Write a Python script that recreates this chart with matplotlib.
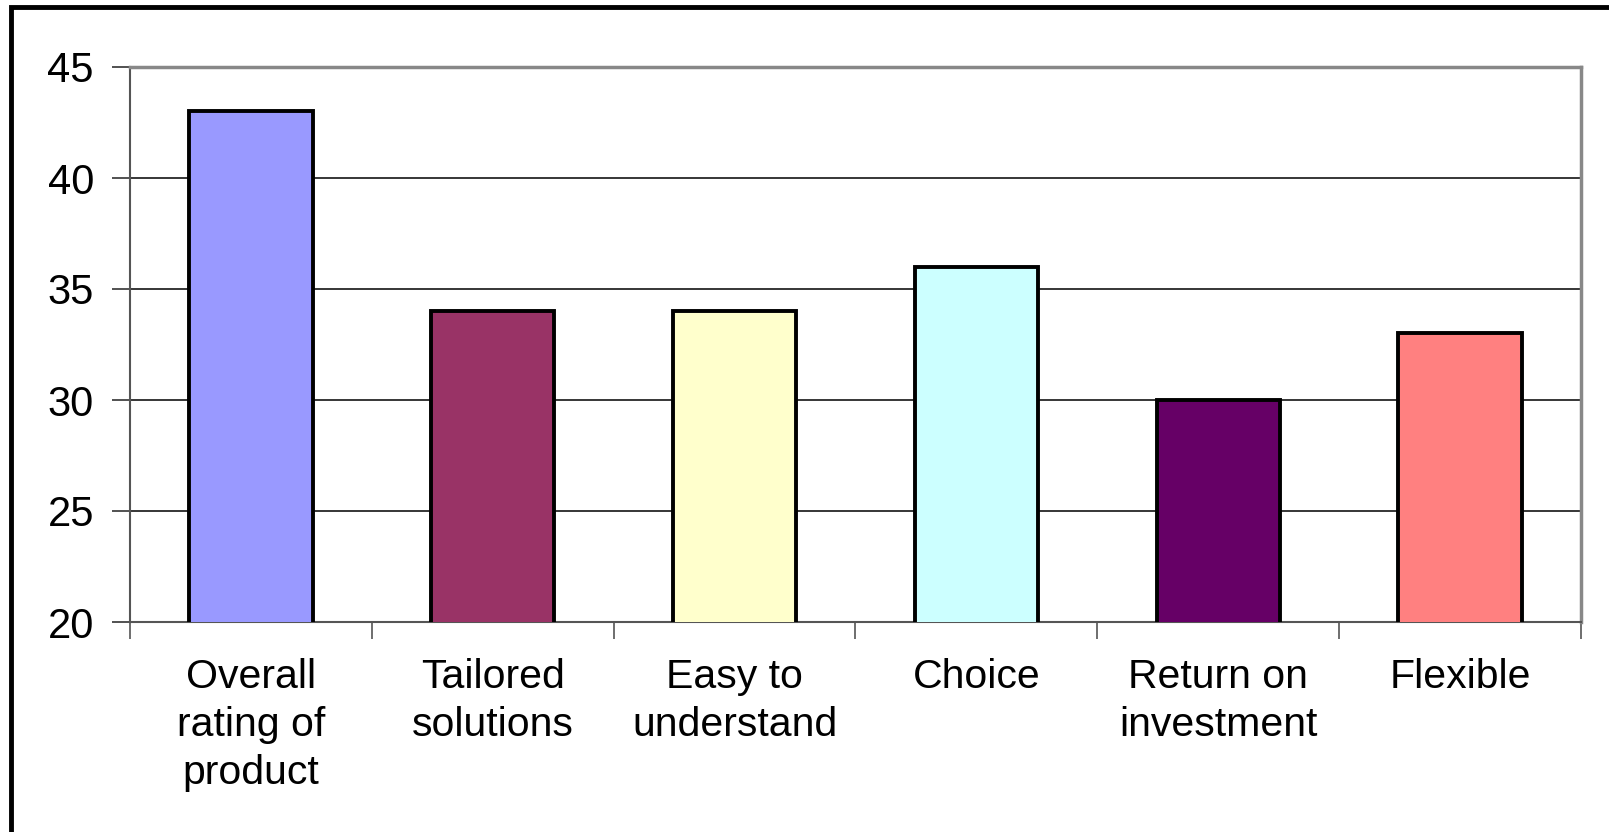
import numpy as np
import matplotlib.pyplot as plt
from matplotlib.patches import Rectangle

plt.rcParams['font.family'] = ['Liberation Sans', 'DejaVu Sans']

labels = ['Overall\nrating of\nproduct', 'Tailored\nsolutions', 'Easy to\nunderstand',
          'Choice', 'Return on\ninvestment', 'Flexible']
values = [43, 34, 34, 36, 30, 33]
colors = ['#9999FF', '#993366', '#FFFFCC', '#CCFFFF', '#660066', '#FF8080']

W, H = 1609, 832
fig = plt.figure(figsize=(W/100, H/100), dpi=100)
ax = fig.add_axes([130/W, 1-622/H, (1581-130)/W, (622-67)/H])

x = np.arange(len(values))
ax.bar(x, values, width=0.51, bottom=0, color=colors, edgecolor='black',
       linewidth=2.8, zorder=3)

ax.set_xlim(-0.5, len(values)-0.5)
ax.set_ylim(20, 45)
ax.set_yticks(np.arange(20, 46, 5))
ax.yaxis.grid(True, color='black', linewidth=1.1, zorder=0)
ax.set_axisbelow(True)

# category boundaries get the tick marks, centres get the labels
ax.set_xticks(np.arange(-0.5, len(values), 1.0))
ax.set_xticklabels([])
ax.set_xticks(x, minor=True)
ax.set_xticklabels(labels, minor=True)
for lbl in ax.get_xticklabels(minor=True):
    lbl.set_linespacing(1.33)
ax.tick_params(axis='x', which='major', direction='out', length=12, width=1.2, color='#555555')
ax.tick_params(axis='x', which='minor', length=0, pad=26, labelsize=29.5)
ax.tick_params(axis='y', direction='out', length=13, width=1.2, color='#333333',
               labelsize=30, pad=13)

for s in ['top', 'right']:
    ax.spines[s].set_color('#888888')
    ax.spines[s].set_linewidth(2.5)
ax.spines['left'].set_color('#555555')
ax.spines['left'].set_linewidth(1.5)
ax.spines['bottom'].set_color('#555555')
ax.spines['bottom'].set_linewidth(1.5)

# outer chart frame, running off the right and bottom edges
fig.patches.append(Rectangle((11/W, -0.1), 1.2, 1.1 - 7/H, transform=fig.transFigure,
                             fill=False, edgecolor='black', linewidth=3.5))

fig.savefig('out.png', dpi=100)
